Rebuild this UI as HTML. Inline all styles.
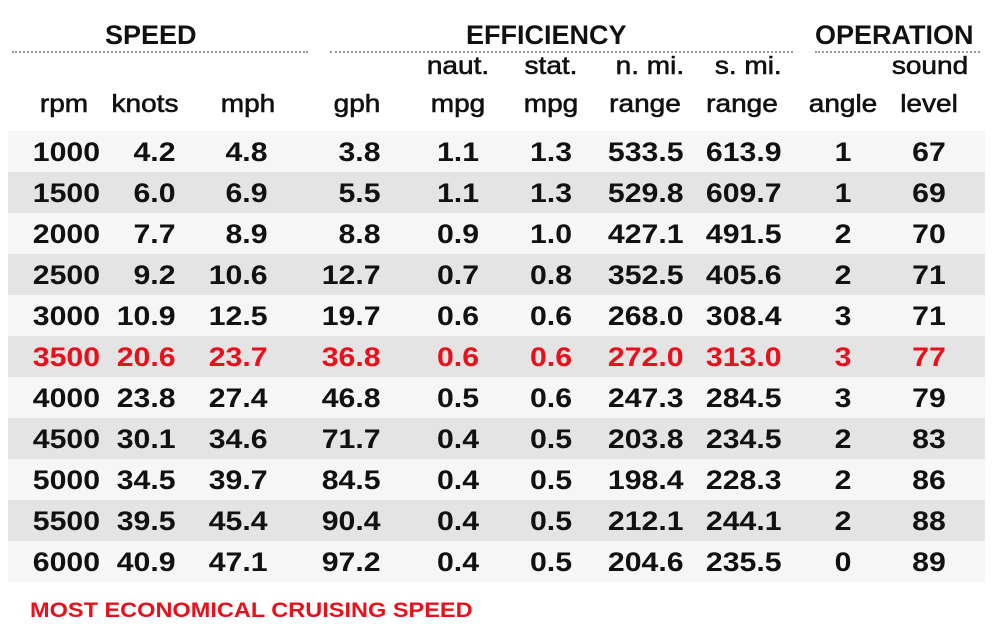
<!DOCTYPE html>
<html><head><meta charset="utf-8"><style>
body{margin:0;width:1000px;height:642px;background:#fff;position:relative;overflow:hidden;font-family:"Liberation Sans",sans-serif;color:#111}
.t{position:absolute;font-weight:bold;white-space:nowrap}
.g{font-size:27px;top:20px}
.line{position:absolute;top:51px;height:0;border-top:2px dotted #999}
.h{font-size:25px;font-weight:normal;-webkit-text-stroke:0.6px #111}
.row{position:absolute;left:8px;width:977px;height:41px}
.c{position:absolute;font-size:27px;font-weight:bold;top:6px;white-space:nowrap}
</style></head><body>
<div class="t g" style="left:105px">SPEED</div>
<div class="line" style="left:12px;width:296px"></div>
<div class="t g" style="left:466px">EFFICIENCY</div>
<div class="line" style="left:330px;width:463px"></div>
<div class="t g" style="left:815px">OPERATION</div>
<div class="line" style="left:815px;width:165px"></div>
<div id="rows"></div>
<div class="t" style="left:30px;top:599px;font-size:21px;color:#e8101a;transform:scaleX(1.12);transform-origin:left">MOST ECONOMICAL CRUISING SPEED</div>
<script>
const rpm=["1000","1500","2000","2500","3000","3500","4000","4500","5000","5500","6000"];
const knots=["4.2","6.0","7.7","9.2","10.9","20.6","23.8","30.1","34.5","39.5","40.9"];
const mph=["4.8","6.9","8.9","10.6","12.5","23.7","27.4","34.6","39.7","45.4","47.1"];
const gph=["3.8","5.5","8.8","12.7","19.7","36.8","46.8","71.7","84.5","90.4","97.2"];
const nmpg=["1.1","1.1","0.9","0.7","0.6","0.6","0.5","0.4","0.4","0.4","0.4"];
const smpg=["1.3","1.3","1.0","0.8","0.6","0.6","0.6","0.5","0.5","0.5","0.5"];
const nrange=["533.5","529.8","427.1","352.5","268.0","272.0","247.3","203.8","198.4","212.1","204.6"];
const srange=["613.9","609.7","491.5","405.6","308.4","313.0","284.5","234.5","228.3","244.1","235.5"];
const angle=["1","1","2","2","3","3","3","2","2","2","0"];
const sound=["67","69","70","71","71","77","79","83","86","88","89"];
const highlightRow=5;
const cols=[
 {n:"rpm",d:rpm,r:100,h2:"rpm"},
 {n:"knots",d:knots,r:176,h2:"knots"},
 {n:"mph",d:mph,r:268,h2:"mph"},
 {n:"gph",d:gph,r:381,h2:"gph"},
 {n:"naut-mpg",d:nmpg,c:458,h1:"naut.",h2:"mpg"},
 {n:"stat-mpg",d:smpg,c:551,h1:"stat.",h2:"mpg"},
 {n:"nmi-range",d:nrange,r:684,h1:"n. mi.",h2:"range"},
 {n:"smi-range",d:srange,r:782,h1:"s. mi.",h2:"range"},
 {n:"angle",d:angle,c:843,h2:"angle"},
 {n:"sound-level",d:sound,c:929,h1:"sound",h2:"level"}];
const root=document.getElementById('rows');
function place(el,col){
 if(col.r!==undefined){el.style.right=(1000-col.r)+'px';el.style.transform='scaleX(1.12)';el.style.transformOrigin='right';}
 else{el.style.left=col.c+'px';el.style.transform='translateX(-50%) scaleX(1.12)';}
}
cols.forEach(col=>{
 if(col.h1){const e=document.createElement('div');e.className='t h';e.textContent=col.h1;e.style.top='52px';
  const cc=col.n==='sound-level'?{c:930}:col;place(e,cc);
  
  
  document.body.appendChild(e);}
 const e=document.createElement('div');e.className='t h';e.textContent=col.h2;e.style.top='90px';
 const cc2=col.n==='rpm'?{c:64}:col.n==='knots'?{c:145}:col.n==='mph'?{c:248}:col.n==='gph'?{c:357}:col.n==='nmi-range'?{c:645}:col.n==='smi-range'?{c:742}:col;
 place(e,cc2);
 
 
 document.body.appendChild(e);
});
rpm.forEach((_,i)=>{
 const row=document.createElement('div');row.className='row';
 row.style.top=(131+i*41)+'px';
 row.style.background=i%2?'#e4e4e4':'#f6f6f6';
 
 
 root.appendChild(row);
 cols.forEach(col=>{
  const e=document.createElement('div');e.className='c';e.textContent=col.d[i];
  e.style.top=(131+i*41+6)+'px';
  place(e,col);
  if(i===highlightRow)e.style.color='#e8101a';
  
  
  root.appendChild(e);
 });
});
</script>
</body></html>
